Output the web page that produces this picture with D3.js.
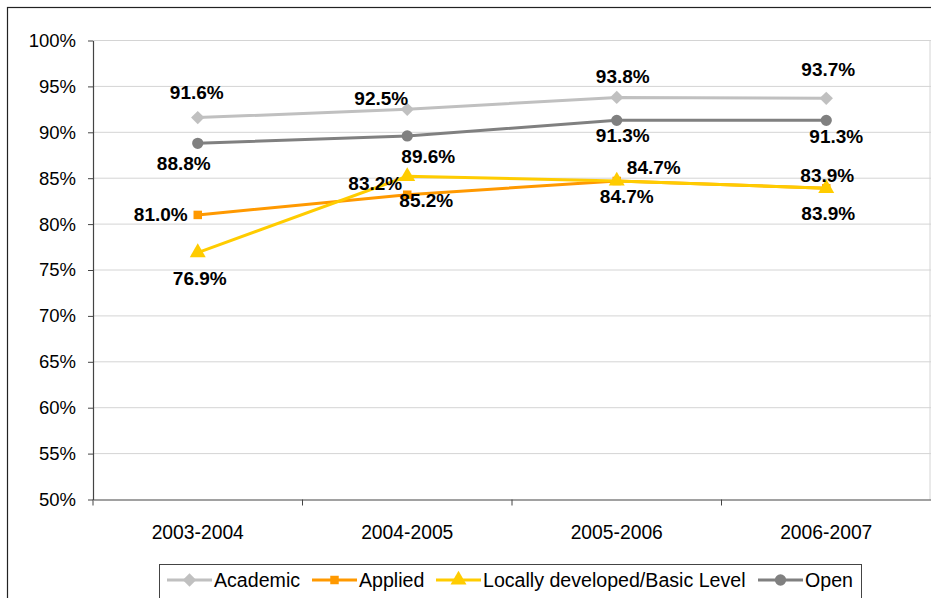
<!DOCTYPE html>
<html>
<head>
<meta charset="utf-8">
<script src="https://cdn.jsdelivr.net/npm/d3@7/dist/d3.min.js"></script>
<style>
  html, body { margin: 0; padding: 0; background: #fff; }
  svg { display: block; font-family: "Liberation Sans", Arial, sans-serif; }
</style>
</head>
<body>
<svg id="chart" width="931" height="598"></svg>
<script>
// School years on the horizontal axis
const years = ["2003-2004", "2004-2005", "2005-2006", "2006-2007"];

// Percentages for each course type
const academic = [91.6, 92.5, 93.8, 93.7];
const applied  = [81.0, 83.2, 84.7, 83.9];
const locally  = [76.9, 85.2, 84.7, 83.9];
const open     = [88.8, 89.6, 91.3, 91.3];

const seriesNames = ["Academic", "Applied", "Locally developed/Basic Level", "Open"];

// Vertical axis ticks
const yTicks = [50, 55, 60, 65, 70, 75, 80, 85, 90, 95, 100];

// Label placement (offsets of each value label from its point)
const labelOffsets = {
  "Academic": [[-1, -25], [-26, -11], [6, -21], [2, -29]],
  "Applied":  [[-37, 0], [-32, -11], [37, -13], [1, -13]],
  "Locally developed/Basic Level": [[2, 26], [19, 24], [10, 16], [2, 25]],
  "Open":     [[-14, 20], [21, 21], [6, 15], [10, 16]]
};

// Diamond drawn as a square turned 45 degrees
const wideDiamond = {
  draw(context, size) {
    const r = Math.sqrt(size / 2);
    context.moveTo(0, -r);
    context.lineTo(r, 0);
    context.lineTo(0, r);
    context.lineTo(-r, 0);
    context.closePath();
  }
};

const series = [
  { name: seriesNames[0], values: academic, color: "#C0C0C0", shape: wideDiamond,       size: 90 },
  { name: seriesNames[1], values: applied,  color: "#FF9900", shape: d3.symbolSquare,   size: 72 },
  { name: seriesNames[2], values: locally,  color: "#FFCC00", shape: d3.symbolTriangle, size: 110 },
  { name: seriesNames[3], values: open,     color: "#808080", shape: d3.symbolCircle,   size: 100 }
];

const svg = d3.select("#chart");

// Outer chart frame
svg.append("rect")
  .attr("x", 7.5).attr("y", 7.5)
  .attr("width", 940).attr("height", 600)
  .attr("fill", "none").attr("stroke", "#222").attr("stroke-width", 1.2);

const plot = { left: 93, top: 40.5, right: 931, bottom: 499.5 };

const x = d3.scaleBand().domain(years).range([plot.left, plot.right]).padding(0);
const y = d3.scaleLinear().domain([50, 100]).range([plot.bottom, plot.top]);
const cx = d => x(d) + x.bandwidth() / 2;

// Horizontal gridlines
svg.append("g")
  .selectAll("line")
  .data(yTicks.filter(t => t > 50))
  .join("line")
  .attr("x1", plot.left).attr("x2", plot.right)
  .attr("y1", d => y(d)).attr("y2", d => y(d))
  .attr("stroke", "#D4D4D4").attr("stroke-width", 1);

// Right plot border
svg.append("line")
  .attr("x1", plot.right - 1).attr("x2", plot.right - 1)
  .attr("y1", plot.top).attr("y2", plot.bottom)
  .attr("stroke", "#D4D4D4");

// Y axis
const yAxis = svg.append("g")
  .attr("transform", `translate(${plot.left},0)`)
  .call(d3.axisLeft(y).tickValues(yTicks).tickFormat(d => d + "%").tickSize(5).tickSizeOuter(0));
yAxis.select(".domain").attr("stroke", "#444").attr("stroke-width", 1.2);
yAxis.selectAll(".tick line").attr("stroke", "#444");
yAxis.selectAll(".tick text")
  .attr("x", -17)
  .attr("font-size", 18.5).attr("fill", "#000")
  .attr("font-family", "Liberation Sans, Arial, sans-serif");

// X axis
const xAxis = svg.append("g")
  .attr("transform", `translate(0,${plot.bottom})`)
  .call(d3.axisBottom(x).tickSize(0).tickSizeOuter(0));
xAxis.select(".domain").attr("stroke", "#444").attr("stroke-width", 1.2);
xAxis.selectAll(".tick text")
  .attr("y", 26)
  .attr("font-size", 19.3).attr("fill", "#000")
  .attr("font-family", "Liberation Sans, Arial, sans-serif");

// Category boundary ticks
svg.append("g")
  .selectAll("line")
  .data(years)
  .join("line")
  .attr("x1", d => x(d)).attr("x2", d => x(d))
  .attr("y1", plot.bottom).attr("y2", plot.bottom + 6)
  .attr("stroke", "#444");

// Lines
const line = d3.line().x((v, i) => cx(years[i])).y(v => y(v));
svg.append("g")
  .selectAll("path")
  .data(series)
  .join("path")
  .attr("d", s => line(s.values))
  .attr("fill", "none")
  .attr("stroke", s => s.color)
  .attr("stroke-width", 3);

// Markers
series.forEach(s => {
  svg.append("g")
    .selectAll("path")
    .data(s.values)
    .join("path")
    .attr("transform", (v, i) => `translate(${cx(years[i])},${y(v)})`)
    .attr("d", d3.symbol().type(s.shape).size(s.size))
    .attr("fill", s.color);
});

// Value labels
series.forEach(s => {
  svg.append("g")
    .selectAll("text")
    .data(s.values)
    .join("text")
    .attr("x", (v, i) => cx(years[i]) + labelOffsets[s.name][i][0])
    .attr("y", (v, i) => y(v) + labelOffsets[s.name][i][1])
    .attr("text-anchor", "middle")
    .attr("dominant-baseline", "central")
    .attr("font-size", 19)
    .attr("font-weight", "bold")
    .attr("fill", "#000")
    .text(v => v.toFixed(1) + "%");
});

// Legend
const legend = svg.append("g");
legend.append("rect")
  .attr("x", 159.5).attr("y", 564.5)
  .attr("width", 702).attr("height", 50)
  .attr("fill", "#fff").attr("stroke", "#444").attr("stroke-width", 1);

const legendX = [167, 312, 436, 758];
series.forEach((s, i) => {
  const g = legend.append("g").attr("transform", `translate(${legendX[i]},580)`);
  g.append("line").attr("x1", 0).attr("x2", 45).attr("y1", 0).attr("y2", 0)
    .attr("stroke", s.color).attr("stroke-width", 3);
  g.append("path").attr("transform", "translate(22.5,0)")
    .attr("d", d3.symbol().type(s.shape).size(s.size)).attr("fill", s.color);
  g.append("text").attr("x", 47).attr("y", 0)
    .attr("dominant-baseline", "central")
    .attr("font-size", 19.6).attr("fill", "#000")
    .text(s.name);
});
</script>
</body>
</html>
